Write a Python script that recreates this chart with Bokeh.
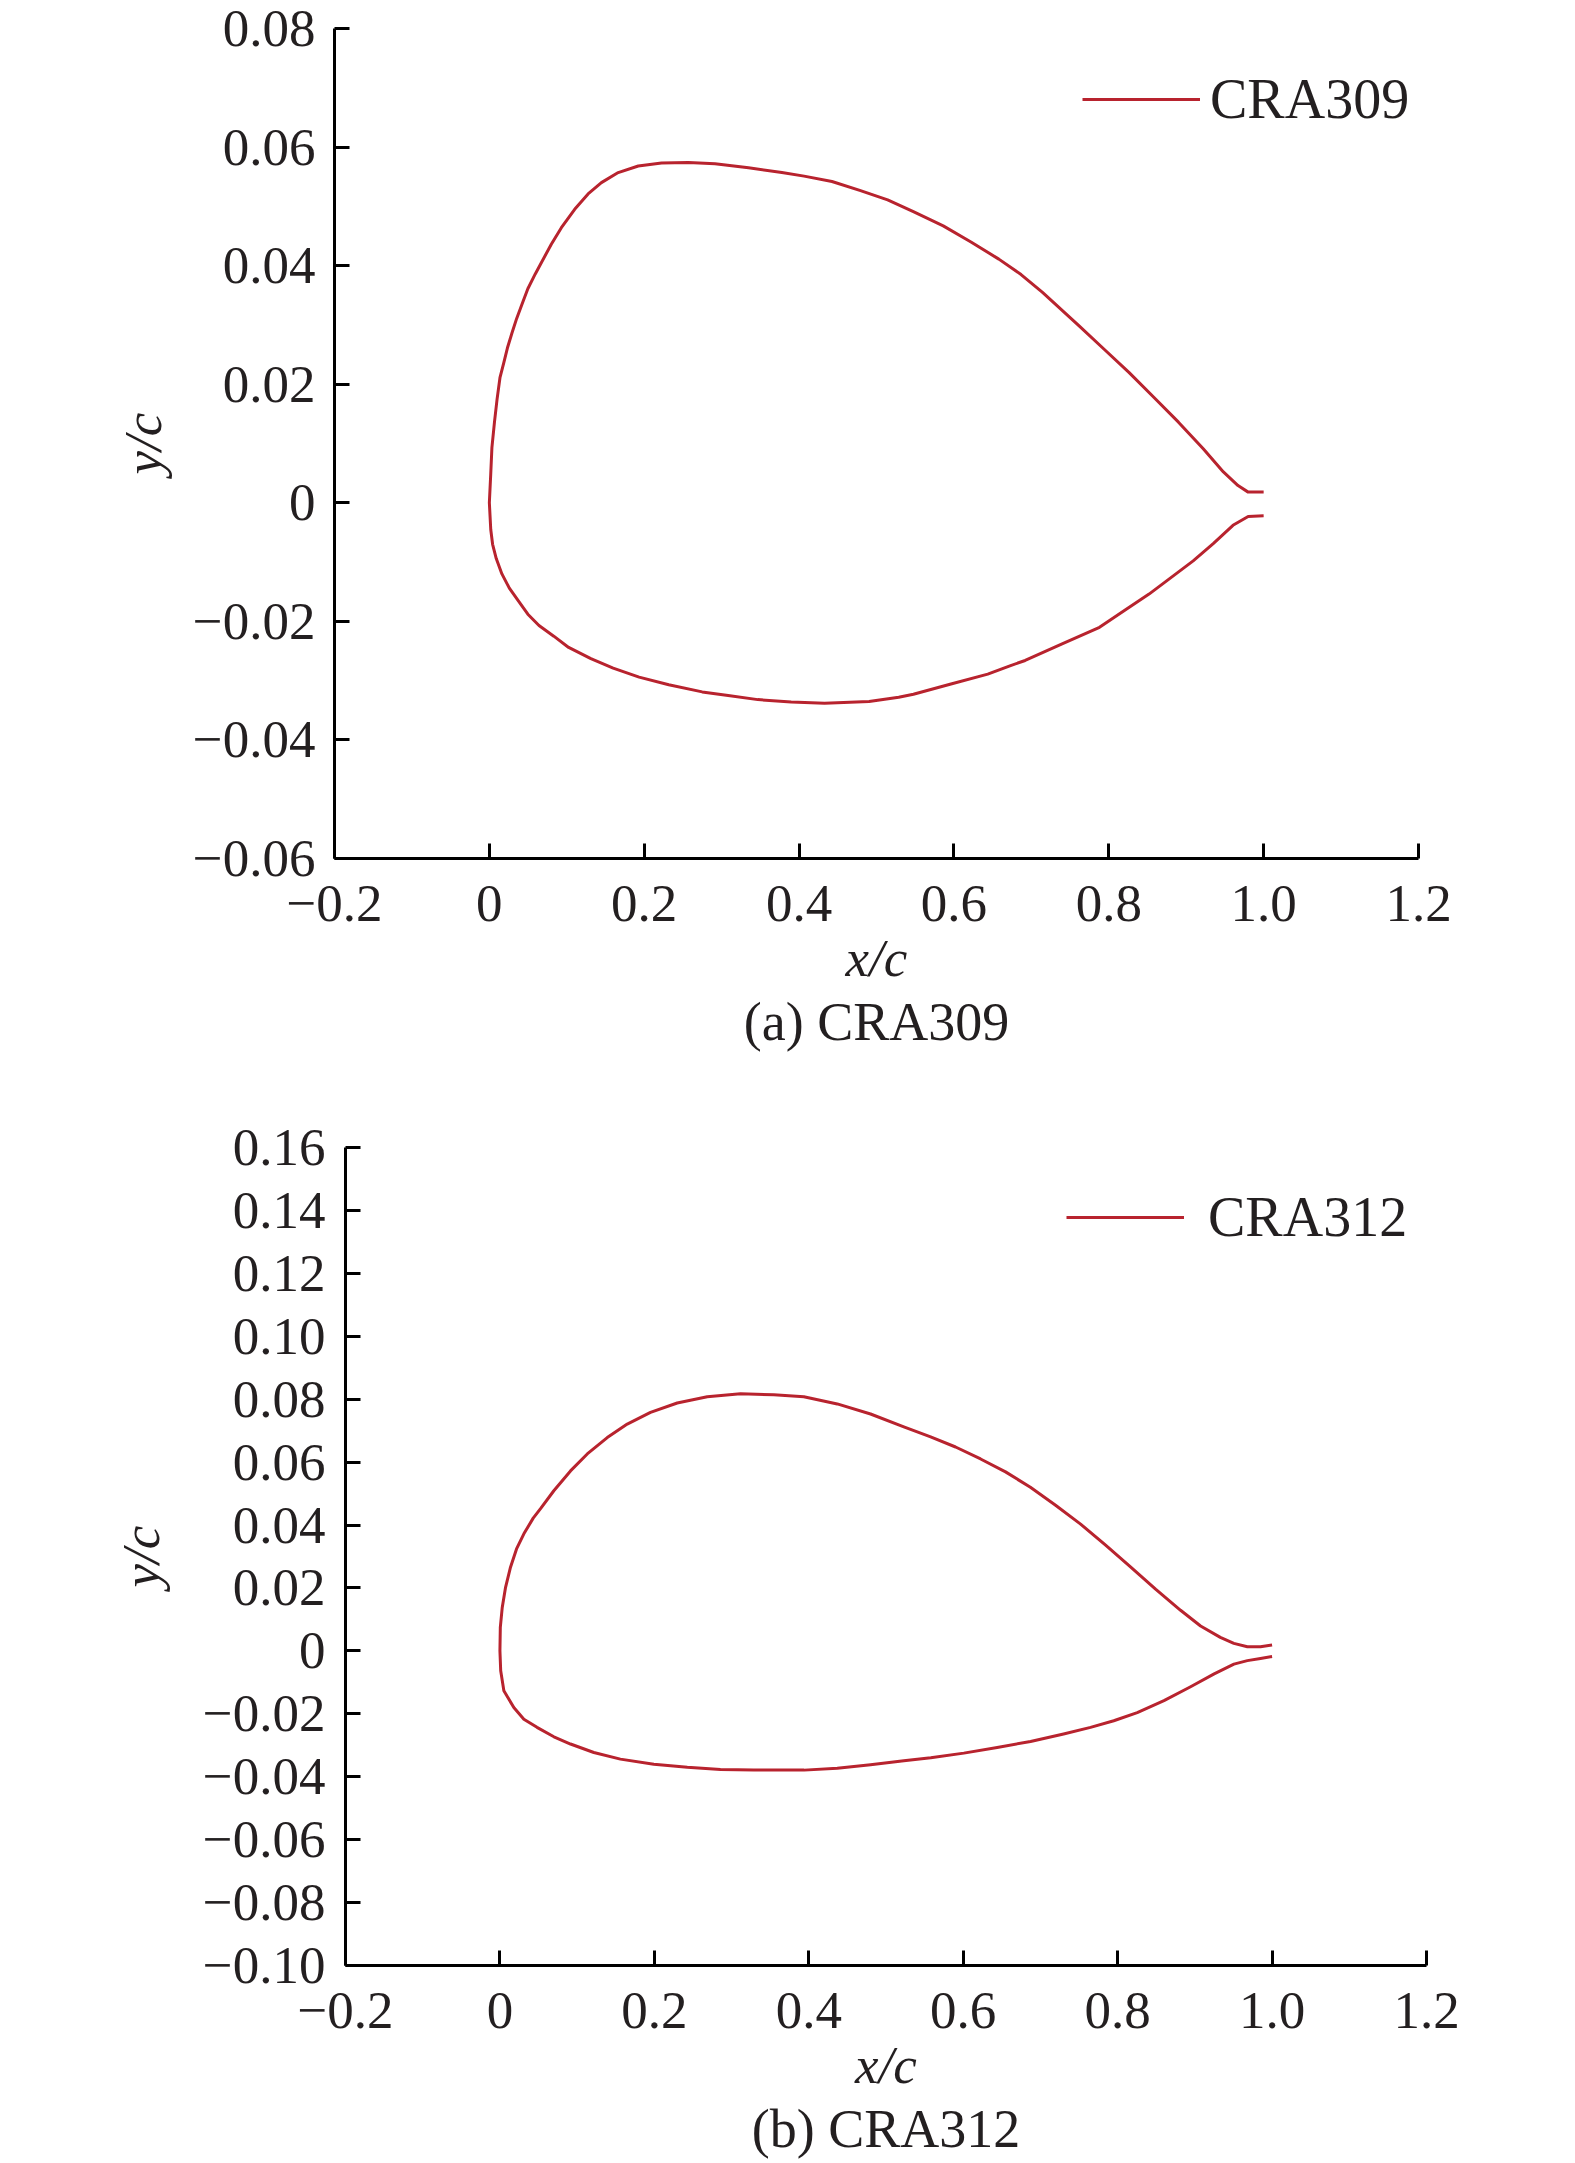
from bokeh.plotting import figure
from bokeh.models import Range1d, FixedTicker, Legend, LegendItem, Title
from bokeh.embed import file_html
from bokeh.resources import INLINE

# ---------------- data ----------------
# CRA309
a_upper_x = [0.0, 0.0018, 0.0033, 0.0066, 0.0099, 0.0137, 0.0186, 0.0233, 0.0291, 0.0353, 0.0425,
             0.0497, 0.0593, 0.0671, 0.08, 0.093, 0.1102, 0.1275, 0.1447, 0.1664, 0.1923,
             0.2224, 0.257, 0.2914, 0.3347, 0.3778, 0.4065, 0.4425, 0.4784,
             0.5144, 0.5476, 0.5862, 0.622, 0.658, 0.6867, 0.7144, 0.762, 0.794, 0.826, 0.8581,
             0.89, 0.922, 0.948, 0.9669, 0.98, 1.0]
a_upper_y = [0.0, 0.0049, 0.0093, 0.0136, 0.0174, 0.0211, 0.0236, 0.0261, 0.0286, 0.0311, 0.0336,
             0.0361, 0.0386, 0.0405, 0.0436, 0.0464, 0.0495, 0.0521, 0.054, 0.0557, 0.0568,
             0.0573, 0.0574, 0.0572, 0.0565, 0.0557, 0.0551, 0.0542, 0.0527,
             0.0511, 0.0491, 0.0467, 0.044, 0.0411, 0.0385, 0.0355, 0.0298, 0.0259, 0.022, 0.0178,
             0.0136, 0.0091, 0.0052, 0.0029, 0.0018, 0.0018]
a_lower_x = [0.0, 0.0018, 0.0042, 0.0089, 0.0162, 0.0258, 0.0377, 0.0497, 0.0641, 0.0832, 0.1024,
             0.1311, 0.1599, 0.1934, 0.2317, 0.2749, 0.3084, 0.3467, 0.3898, 0.4329, 0.4904,
             0.5287, 0.5477, 0.595, 0.6437, 0.6723, 0.692, 0.7397, 0.788, 0.8197, 0.852, 0.909,
             0.9349, 0.9604, 0.98, 1.0]
a_lower_y = [0.0, -0.0045, -0.007, -0.0094, -0.012, -0.0144, -0.0166, -0.0188, -0.0207, -0.0225, -0.0244,
             -0.0263, -0.0279, -0.0294, -0.0307, -0.0319, -0.0325, -0.0332, -0.0336, -0.0338, -0.0335,
             -0.0328, -0.0323, -0.0306, -0.0289, -0.0275, -0.0266, -0.0238, -0.021, -0.0182, -0.0154, -0.0098,
             -0.0069, -0.0038, -0.0023, -0.0022]

# CRA312
b_upper_x = [0.0, 0.0005, 0.003, 0.0073, 0.0137, 0.0215, 0.031, 0.0431, 0.0526, 0.0698, 0.0914,
             0.1131, 0.139, 0.1649, 0.195, 0.2296, 0.2685, 0.3116, 0.3547, 0.3936, 0.4369,
             0.48, 0.5231, 0.5578, 0.5901, 0.6225, 0.6548, 0.687, 0.7196, 0.752, 0.7844, 0.817,
             0.8491, 0.8815, 0.9074, 0.933, 0.9505, 0.968, 0.985, 1.0]
b_upper_y = [0.0, 0.0075, 0.0138, 0.0202, 0.0266, 0.0324, 0.0372, 0.0422, 0.0452, 0.0509, 0.0572,
             0.0626, 0.0678, 0.0721, 0.0758, 0.0788, 0.0808, 0.0817, 0.0814, 0.0808, 0.0785,
             0.0753, 0.0712, 0.068, 0.0648, 0.061, 0.0569, 0.052, 0.0463, 0.0403, 0.0336, 0.0266,
             0.0196, 0.0129, 0.0079, 0.0043, 0.0024, 0.0013, 0.0013, 0.0019]
b_lower_x = [0.0, 0.001, 0.0051, 0.018, 0.031, 0.048, 0.0699, 0.0914, 0.1216, 0.156, 0.1993,
             0.2427, 0.2856, 0.329, 0.394, 0.4369, 0.48, 0.5231, 0.558, 0.6008, 0.644, 0.6872,
             0.73, 0.7649, 0.795, 0.8254, 0.86, 0.8945, 0.925, 0.9506, 0.968, 0.985, 1.0]
b_lower_y = [0.0, -0.0063, -0.0127, -0.018, -0.0217, -0.0243, -0.0273, -0.0296, -0.0323, -0.0344, -0.036,
             -0.037, -0.0377, -0.0379, -0.0379, -0.0373, -0.0362, -0.0349, -0.034, -0.0325, -0.0307, -0.0288,
             -0.0264, -0.0243, -0.0222, -0.0196, -0.0158, -0.0114, -0.0073, -0.0042, -0.0031, -0.0024, -0.0018]

x_ticks = [-0.2, 0.0, 0.2, 0.4, 0.6, 0.8, 1.0, 1.2]
x_tick_labels = ["\u22120.2", "0", "0.2", "0.4", "0.6", "0.8", "1.0", "1.2"]

a_y_ticks = [-0.06, -0.04, -0.02, 0.0, 0.02, 0.04, 0.06, 0.08]
a_y_tick_labels = ["\u22120.06", "\u22120.04", "\u22120.02", "0", "0.02", "0.04", "0.06", "0.08"]

b_y_ticks = [-0.10, -0.08, -0.06, -0.04, -0.02, 0.0, 0.02, 0.04, 0.06, 0.08, 0.10, 0.12, 0.14, 0.16]
b_y_tick_labels = ["\u22120.10", "\u22120.08", "\u22120.06", "\u22120.04", "\u22120.02", "0",
                   "0.02", "0.04", "0.06", "0.08", "0.10", "0.12", "0.14", "0.16"]

series_a = "CRA309"
series_b = "CRA312"
caption_a = "(a) CRA309"
caption_b = "(b) CRA312"

# ---------------- styling ----------------
FONT = "Liberation Serif"
FS = "53px"
TXT = "#231F20"
RED = "#B8232E"


def panel(ux, uy, lx, ly, yticks, ylabels, yrange, name, caption,
          width, height, mb, leg_loc, leg_standoff, ylab_standoff, ymaj_standoff, cap_standoff):
    p = figure(width=width, height=height, output_backend="svg", toolbar_location=None,
               x_range=Range1d(-0.2, 1.2), y_range=Range1d(*yrange),
               min_border_left=mb[0], min_border_right=mb[1],
               min_border_top=mb[2], min_border_bottom=mb[3])
    p.outline_line_color = None
    p.grid.visible = False
    p.background_fill_color = "white"
    p.border_fill_color = "white"

    xs = list(reversed(ux)) + lx[1:]
    ys = list(reversed(uy)) + ly[1:]
    r = p.line(xs, ys, line_color=RED, line_width=3, line_join="round")

    for ax in (p.xaxis[0], p.yaxis[0]):
        ax.axis_line_width = 3
        ax.axis_line_color = "black"
        ax.major_tick_line_width = 3
        ax.major_tick_line_color = "black"
        ax.major_tick_in = 15
        ax.major_tick_out = 0
        ax.minor_tick_line_color = None
        ax.major_label_text_font = FONT
        ax.major_label_text_font_size = FS
        ax.major_label_text_color = TXT
        ax.axis_label_text_font = FONT
        ax.axis_label_text_font_size = FS
        ax.axis_label_text_font_style = "italic"
        ax.axis_label_text_color = TXT

    p.xaxis.ticker = FixedTicker(ticks=x_ticks)
    p.xaxis.major_label_overrides = dict(zip(x_ticks, x_tick_labels))
    p.xaxis.axis_label = "x/c"
    p.xaxis.major_label_standoff = 27
    p.xaxis.axis_label_standoff = 5

    p.yaxis.ticker = FixedTicker(ticks=yticks)
    p.yaxis.major_label_overrides = dict(zip(yticks, ylabels))
    p.yaxis.axis_label = "y/c"
    p.yaxis.major_label_standoff = ymaj_standoff
    p.yaxis.axis_label_standoff = ylab_standoff

    leg = Legend(items=[LegendItem(label=name, renderers=[r])], location=leg_loc,
                 glyph_width=118, glyph_height=40, label_height=40,
                 label_standoff=leg_standoff, padding=0, margin=0, spacing=0,
                 border_line_color=None, background_fill_alpha=0,
                 label_text_font=FONT, label_text_font_size="56px", label_text_color=TXT)
    p.add_layout(leg)

    p.add_layout(Title(text=caption, align="center", text_font=FONT, text_font_size="54px",
                       text_font_style="normal", text_color=TXT, standoff=cap_standoff), "below")
    return p


pa = panel(a_upper_x, a_upper_y, a_lower_x, a_lower_y, a_y_ticks, a_y_tick_labels,
           (-0.06, 0.08), series_a, caption_a,
           1560, 1090, (334, 142, 28, 232), (748, 727), 10, 18, 19, 0)
pb = panel(b_upper_x, b_upper_y, b_lower_x, b_lower_y, b_y_ticks, b_y_tick_labels,
           (-0.10, 0.16), series_b, caption_b,
           1560, 1073, (345, 134, 57, 198), (721, 716), 24, 30, 20, 0)

open("out.html", "w").write(file_html([pa, pb], INLINE))
